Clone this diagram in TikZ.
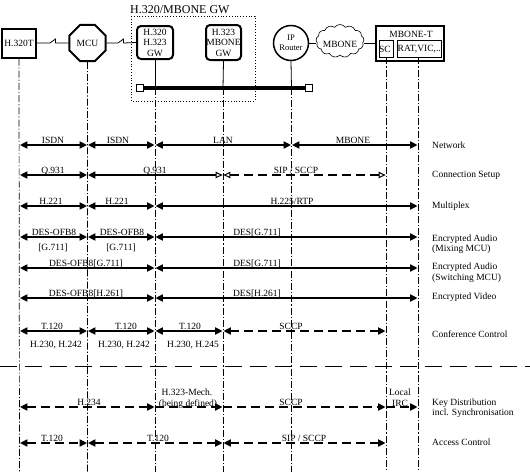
\documentclass[tikz,border=0pt]{standalone}
\usepackage{fontspec}
\setmainfont{Liberation Serif}
\usetikzlibrary{arrows.meta,shapes.geometric,shapes.symbols,calc}
\begin{document}
\begin{tikzpicture}[x=1pt,y=-1pt,
  every node/.style={font=\fontsize{9.5}{10.5}\selectfont, inner sep=0pt},
  thickbox/.style={draw, line width=2pt, fill=white},
  thinbox/.style={draw, line width=0.8pt},
  lifeline/.style={line width=0.7pt, dash pattern=on 7pt off 2pt on 1.2pt off 2pt},
  solidlink/.style={line width=0.8pt},
  flow/.style={line width=2.8pt, shorten <=0.4pt, shorten >=0.4pt},
  dflow/.style={flow, dash pattern=on 9pt off 5pt},
  lbl/.style={anchor=base},
  rowlbl/.style={anchor=west, align=left},
  >={Triangle[length=7.5pt,width=7pt]},
  oh/.tip={Triangle[open,length=7pt,width=6.5pt,line width=1pt,fill=white]}
]
\useasboundingbox (0,0) rectangle (530,472);

% ---------- top nodes ----------
\node[thickbox, minimum width=34pt, minimum height=29pt] (t320) at (19,43) {H.320T};
\node[thickbox, regular polygon, regular polygon sides=8, minimum size=39pt] (mcu) at (87.5,43) {MCU};
\node[thickbox, rounded corners=4pt, minimum width=36pt, minimum height=33pt, align=center] (gw1) at (155,42.5) {H.320\\H.323\\GW};
\node[thickbox, rounded corners=4pt, minimum width=35pt, minimum height=35pt, align=center] (gw2) at (223.5,42.5) {H.323\\MBONE\\GW};
\node[draw, circle, line width=1.5pt, minimum size=35pt, align=center, font=\fontsize{8.5}{9.5}\selectfont] (router) at (291,43) {IP\\Router};
\node[draw, cloud, cloud puffs=13, cloud puff arc=110, aspect=1.5, line width=0.6pt, minimum width=48pt, minimum height=33pt] (mbone) at (340,41) {};
\node (mbonetxt) at (340,44) {MBONE};
\node[thickbox, minimum width=68pt, minimum height=35pt] (mbonet) at (410,43.5) {};
\node (mbonettxt) at (411,34) {MBONE-T};
\node[thinbox, minimum width=14pt, minimum height=17pt] (scbox) at (386,48.5) {};
\node[thinbox, minimum width=44pt, minimum height=17pt] (ratbox) at (419,48.5) {};
\node[anchor=west] (sctxt) at (379,49) {SC};
\node[anchor=west] (rattxt) at (397.5,49) {RAT,VIC,..};

% group box
\draw[line width=0.8pt, dotted] (131,16) rectangle (255,101);
\node[anchor=base west, font=\fontsize{12}{13}\selectfont] (title) at (130,13.5) {H.320/MBONE GW};

% bus
\node[draw, fill=white, line width=0.7pt, minimum size=7pt] (busl) at (139.5,88) {};
\node[draw, fill=white, line width=0.7pt, minimum size=7pt] (busr) at (308.5,88) {};
\draw[line width=4pt] (busl.east) -- (busr.west);

% top connectors
\draw[solidlink] (t320.east) -- (50,43) -- (55.5,39) -- (55.5,43) -- (mcu.west);
\draw[solidlink] (mcu.east) -- (118,43) -- (123.5,39) -- (123.5,43) -- (gw1.west);
\draw[solidlink] (router.east) -- (mbone.west |- router.east);
\draw[solidlink] (mbone.east |- router.east) -- (mbonet.west |- router.east);

% ---------- lifelines ----------
\coordinate (lA) at (19.5,472);
\coordinate (lB) at (87.5,472);
\coordinate (lC) at (155,472);
\coordinate (lD) at (223,472);
\coordinate (lE) at (291.5,472);
\coordinate (lF) at (386,472);
\coordinate (lG) at (418,472);
\coordinate (bus) at (0,88);

\draw[lifeline] (t320.south) -- (lA);
\draw[lifeline] (mcu.south) -- (lB);
\draw[solidlink] (gw1.south) -- (lC |- bus);
\draw[lifeline] (lC |- bus) -- (lC);
\draw[solidlink] (gw2.south) -- (lD |- bus);
\draw[lifeline] (lD |- bus) -- (lD);
\draw[solidlink] (router.south) -- (lE |- bus);
\draw[lifeline] (lE |- bus) -- (lE);
\draw[lifeline] (scbox.south) -- (lF);
\draw[lifeline] (lG |- ratbox.south) -- (lG);

% ---------- rows ----------
\coordinate (rNet) at (0,145);
\coordinate (rCon) at (0,175);
\coordinate (rMux) at (0,206);
\coordinate (rMix) at (0,237);
\coordinate (rSw) at (0,268);
\coordinate (rVid) at (0,298);
\coordinate (rConf) at (0,331);
\coordinate (rSep) at (0,366);
\coordinate (rKey) at (0,407);
\coordinate (rAcc) at (0,443);
\coordinate (rEnd) at (530,0);

% Network
\draw[flow,<->] (lA |- rNet) -- (lB |- rNet);
\draw[flow,<->] (lB |- rNet) -- (lC |- rNet);
\draw[flow,<->] (lC |- rNet) -- (lE |- rNet);
\draw[flow,<->] (lE |- rNet) -- (lG |- rNet);
\node[lbl] (n1) at (53,143) {ISDN};
\node[lbl] (n2) at (118,143) {ISDN};
\node[lbl] (n3) at (223,143) {LAN};
\node[lbl] (n4) at (353,143) {MBONE};
\node[rowlbl] (r1) at (432,145) {Network};

% Connection setup
\draw[flow,<->] (lA |- rCon) -- (lB |- rCon);
\draw[flow,<-oh] (lB |- rCon) -- (lD |- rCon);
\draw[dflow,oh-oh] (lD |- rCon) -- (lF |- rCon);
\node[lbl] (c1) at (53,173) {Q.931};
\node[lbl] (c2) at (155,173) {Q.931};
\node[lbl] (c3) at (296,173) {SIP / SCCP};
\node[rowlbl] (r2) at (432,175) {Connection Setup};

% Multiplex
\draw[flow,<->] (lA |- rMux) -- (lB |- rMux);
\draw[flow,<->] (lB |- rMux) -- (lC |- rMux);
\draw[flow,<->] (lC |- rMux) -- (lG |- rMux);
\node[lbl] (m1) at (51,204) {H.221};
\node[lbl] (m2) at (117,204) {H.221};
\node[lbl] (m3) at (292,204) {H.225/RTP};
\node[rowlbl] (r3) at (432,206) {Multiplex};

% Encrypted audio (mixing)
\draw[flow,<->] (lA |- rMix) -- (lB |- rMix);
\draw[flow,<->] (lB |- rMix) -- (lC |- rMix);
\draw[flow,<->] (lC |- rMix) -- (lG |- rMix);
\node[lbl] (a1) at (54,235) {DES-OFB8};
\node[lbl] (a1b) at (53,250) {[G.711]};
\node[lbl] (a2) at (122,235) {DES-OFB8};
\node[lbl] (a2b) at (121,250) {[G.711]};
\node[lbl] (a3) at (257,235) {DES[G.711]};
\node[rowlbl] (r4) at (432,244) {Encrypted Audio\\(Mixing MCU)};

% Encrypted audio (switching)
\draw[flow,<->] (lA |- rSw) -- (lC |- rSw);
\draw[flow,<->] (lC |- rSw) -- (lG |- rSw);
\node[lbl] (s1) at (86,266) {DES-OFB8[G.711]};
\node[lbl] (s2) at (257,266) {DES[G.711]};
\node[rowlbl] (r5) at (432,272.5) {Encrypted Audio\\(Switching MCU)};

% Encrypted video
\draw[flow,<->] (lA |- rVid) -- (lC |- rVid);
\draw[flow,<->] (lC |- rVid) -- (lG |- rVid);
\node[lbl] (v1) at (86,296) {DES-OFB8[H.261]};
\node[lbl] (v2) at (257,296) {DES[H.261]};
\node[rowlbl] (r6) at (432,297) {Encrypted Video};

% Conference control
\draw[flow,<->] (lA |- rConf) -- (lB |- rConf);
\draw[flow,<->] (lB |- rConf) -- (lC |- rConf);
\draw[flow,<->] (lC |- rConf) -- (lD |- rConf);
\draw[dflow,<->] (lD |- rConf) -- (lF |- rConf);
\node[lbl] (k1) at (52,329) {T.120};
\node[lbl] (k2) at (126,329) {T.120};
\node[lbl] (k3) at (190,329) {T.120};
\node[lbl] (k4) at (291,329) {SCCP};
\node[lbl] (k1b) at (56,347.5) {H.230, H.242};
\node[lbl] (k2b) at (124,347.5) {H.230, H.242};
\node[lbl] (k3b) at (193,347.5) {H.230, H.245};
\node[rowlbl] (r7) at (432,334) {Conference Control};

% separator
\draw[line width=1pt, dash pattern=on 17pt off 8pt] (rSep) -- (rSep -| rEnd);

% Key distribution
\draw[dflow,<->] (lA |- rKey) -- (lC |- rKey);
\draw[dflow,->] (lC |- rKey) -- (lD |- rKey);
\draw[dflow,->] (lD |- rKey) -- (lF |- rKey);
\draw[dflow,->] (lF |- rKey) -- (lG |- rKey);
\node[lbl] (d1) at (89,405) {H.234};
\node[lbl] (d2) at (187,395) {H.323-Mech.};
\node[lbl] (d2b) at (188,406) {(being defined)};
\node[lbl] (d3) at (291,405) {SCCP};
\node[lbl] (d4) at (400,395) {Local};
\node[lbl] (d4b) at (400,406) {IRC};
\node[rowlbl] (r8) at (432,408) {Key Distribution\\incl. Synchronisation};

% Access control
\draw[dflow,<->] (lA |- rAcc) -- (lB |- rAcc);
\draw[dflow,<->] (lB |- rAcc) -- (lD |- rAcc);
\draw[dflow,<->] (lD |- rAcc) -- (lF |- rAcc);
\node[lbl] (e1) at (52,441) {T.120};
\node[lbl] (e2) at (158,441) {T.120};
\node[lbl] (e3) at (304,441) {SIP / SCCP};
\node[rowlbl] (r9) at (432,442) {Access Control};
\end{tikzpicture}
\end{document}
